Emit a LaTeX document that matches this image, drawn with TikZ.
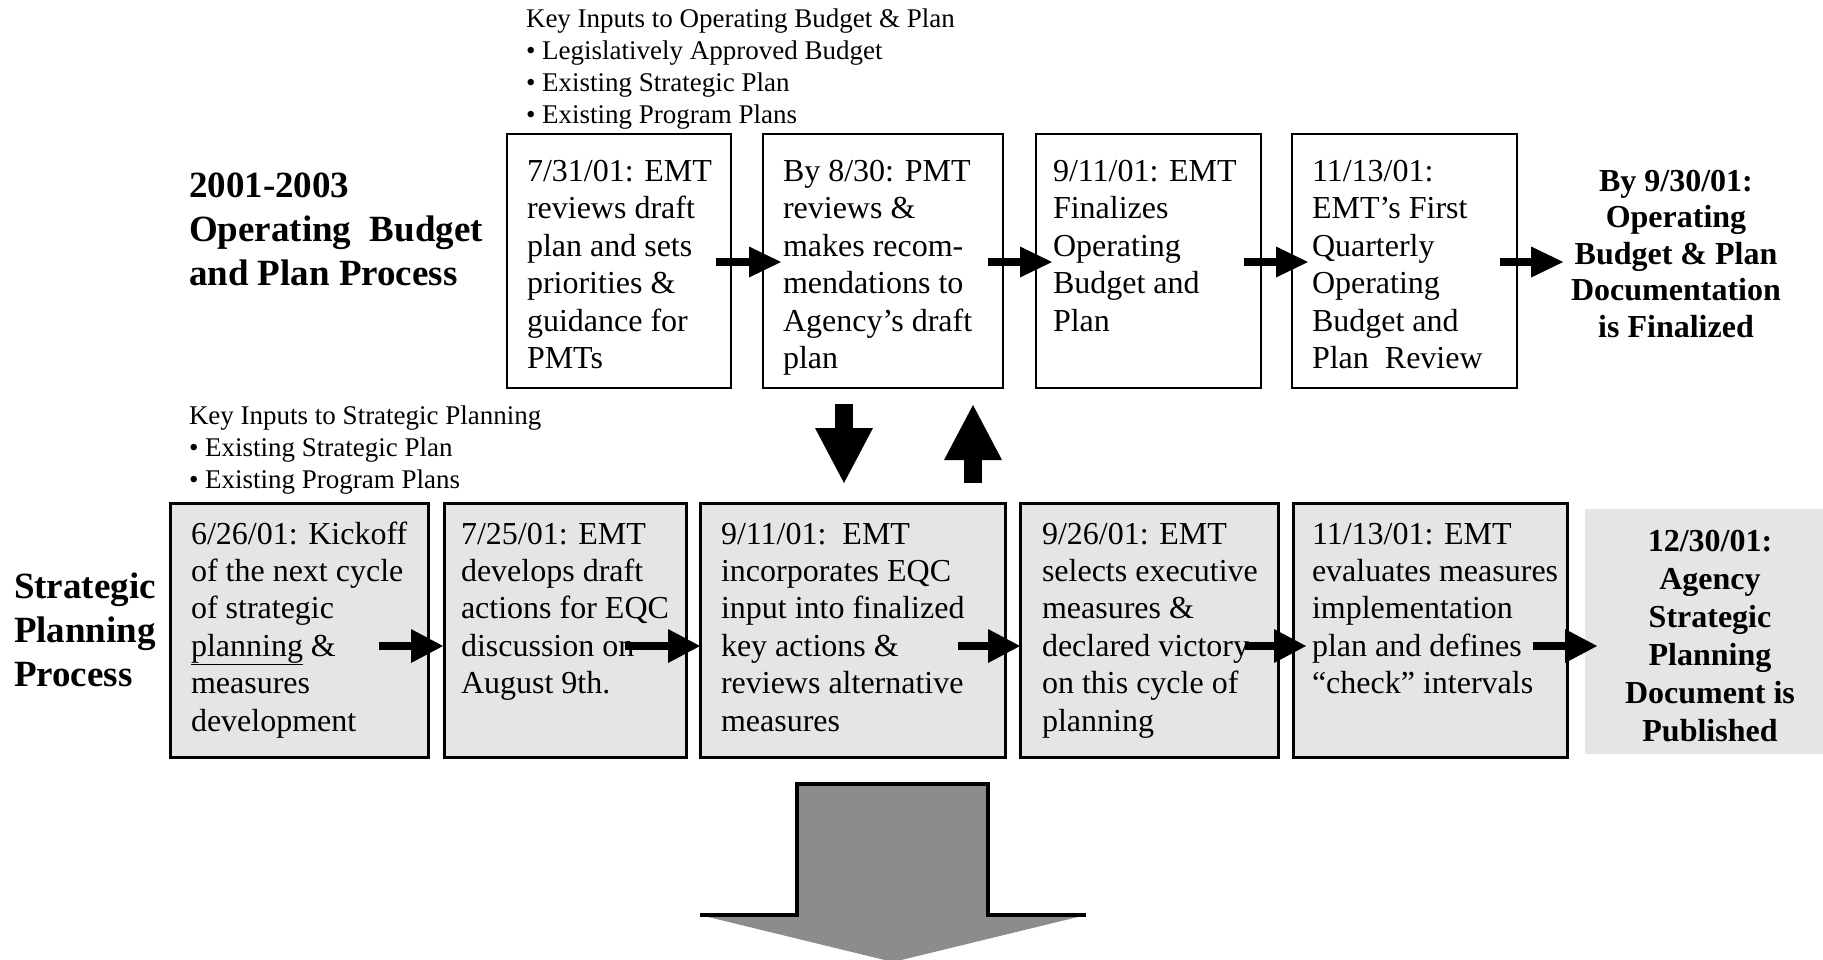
\documentclass[tikz,border=0pt]{standalone}
\usepackage{fontspec}
\setmainfont{Liberation Serif}
\usetikzlibrary{arrows.meta,calc}

% fixed ascent for the first line of every text block: the block's top edge
% lies exactly 30pt above its first baseline
\newcommand\fl{\rule{0pt}{30pt}}

\tikzset{
  every node/.style={inner sep=0pt, outer sep=0pt},
  budgetbox/.style={draw=black, line width=2.5pt, fill=white, anchor=north west,
    minimum height=254pt},
  stratbox/.style={draw=black, line width=3pt, fill=black!10, anchor=north west,
    minimum height=254pt},
  boxtext/.style={anchor=north west, align=left, font=\fontsize{32}{37.4}\selectfont},
  heading/.style={anchor=north west, align=left, font=\fontsize{37}{44}\selectfont\bfseries},
  inputtext/.style={anchor=north west, align=left, font=\fontsize{27}{32}\selectfont},
  goaltext/.style={anchor=north, align=center, font=\fontsize{32}{38}\selectfont\bfseries},
  toparrow/.style={line width=8pt, -{Triangle[length=32pt,width=31pt,line width=0pt]}},
  lowarrow/.style={line width=8.5pt, -{Triangle[length=32pt,width=34pt,line width=0pt]}},
  linkarrow/.style={line width=18pt, -{Triangle[length=55pt,width=58pt,line width=0pt]}},
}

\begin{document}
\begin{tikzpicture}[x=1pt,y=-1pt]
\useasboundingbox (0,0) rectangle (1823,959);
\fill[white] (0,0) rectangle (1823,959);

% ---------- Operating budget and plan row ----------
\node[heading] (budgettitle) at (189,167)
  {\fl 2001-2003\\Operating~~Budget\\and Plan Process};

\node[inputtext] (budgetinputs) at (526,-2.5)
  {\fl Key Inputs to Operating Budget \& Plan\\
   • Legislatively Approved Budget\\
   • Existing Strategic Plan\\
   • Existing Program Plans};

\node[budgetbox, minimum width=224pt] (t1) at (507,134) {};
\node[budgetbox, minimum width=240pt] (t2) at (763,134) {};
\node[budgetbox, minimum width=225pt] (t3) at (1036,134) {};
\node[budgetbox, minimum width=225pt] (t4) at (1292,134) {};

\node[boxtext] (t1txt) at ($(t1.north west)+(20,17.5)$)
  {\fl 7/31/01: EMT\\reviews draft\\plan and sets\\priorities \&\\guidance for\\PMTs};
\node[boxtext] (t2txt) at ($(t2.north west)+(20,17.5)$)
  {\fl By 8/30: PMT\\reviews \&\\makes recom-\\mendations to\\Agency’s draft\\plan};
\node[boxtext] (t3txt) at ($(t3.north west)+(17,17.5)$)
  {\fl 9/11/01: EMT\\Finalizes\\Operating\\Budget and\\Plan};
\node[boxtext] (t4txt) at ($(t4.north west)+(20,17.5)$)
  {\fl 11/13/01:\\EMT’s First\\Quarterly\\Operating\\Budget and\\Plan~~Review};

\node[goaltext, font=\fontsize{32}{36.5}\selectfont\bfseries] (budgetdone) at (1676,161)
  {\fl By 9/30/01:\\Operating\\Budget \& Plan\\Documentation\\is Finalized};

\draw[toparrow] ($(t1.east)+(-15,1)$) -- ($(t2.west)+(18,1)$);
\draw[toparrow] ($(t2.east)+(-15,1)$) -- ($(t3.west)+(16,1)$);
\draw[toparrow] ($(t3.east)+(-17,1)$) -- ($(t4.west)+(16,1)$);
\draw[toparrow] ($(t4.east)+(-17,1)$) -- ($(budgetdone.west |- t4.east)+(-8,1)$);

% ---------- Strategic planning row ----------
\node[heading] (strattitle) at (14,568)
  {\fl Strategic\\Planning\\Process};

\node[inputtext] (stratinputs) at (189,394)
  {\fl Key Inputs to Strategic Planning\\
   • Existing Strategic Plan\\
   • Existing Program Plans};

\node[stratbox, minimum width=258pt] (b1) at (170,503) {};
\node[stratbox, minimum width=242pt] (b2) at (444,503) {};
\node[stratbox, minimum width=305pt] (b3) at (700,503) {};
\node[stratbox, minimum width=258pt] (b4) at (1020,503) {};
\node[stratbox, minimum width=274pt] (b5) at (1293,503) {};
\node[fill=black!10, anchor=north west, minimum width=242pt, minimum height=245pt]
  (b6) at (1585,509) {};

\node[boxtext] (b1txt) at ($(b1.north west)+(21,11)$)
  {\fl 6/26/01: Kickoff\\of the next cycle\\of strategic\\\underline{planning} \&\\measures\\development};
\node[boxtext] (b2txt) at ($(b2.north west)+(17,11)$)
  {\fl 7/25/01: EMT\\develops draft\\actions for EQC\\discussion on\\August 9th.};
\node[boxtext] (b3txt) at ($(b3.north west)+(21,11)$)
  {\fl 9/11/01:~~EMT\\incorporates EQC\\input into finalized\\key actions \&\\reviews alternative\\measures};
\node[boxtext] (b4txt) at ($(b4.north west)+(22,11)$)
  {\fl 9/26/01: EMT\\selects executive\\measures \&\\declared victory\\on this cycle of\\planning};
\node[boxtext] (b5txt) at ($(b5.north west)+(19,11)$)
  {\fl 11/13/01: EMT\\evaluates measures\\implementation\\plan and defines\\“check” intervals};
\node[goaltext] (b6txt) at (1710,521)
  {\fl 12/30/01:\\Agency\\Strategic\\Planning\\Document is\\Published};

\draw[lowarrow] ($(b1.east)+(-49,16)$) -- ($(b2.west)+(-1,16)$);
\draw[lowarrow] ($(b2.east)+(-61,16)$) -- ($(b3.west)+(0,16)$);
\draw[lowarrow] ($(b3.east)+(-47,16)$) -- ($(b4.west)+(0,16)$);
\draw[lowarrow] ($(b4.east)+(-33,16)$) -- ($(b5.west)+(13,16)$);
\draw[lowarrow] ($(b5.east)+(-34,16)$) -- ($(b6.west |- b5.east)+(12,16)$);

% ---------- links between the two rows ----------
\draw[linkarrow] ($(t2.south)+(-39,16)$) -- ($(b3.north)+(-8.5,-20)$);
\draw[linkarrow] ($(b3.north)+(120.5,-20)$) -- ($(t2.south)+(90,17)$);

% ---------- large outgoing arrow ----------
\fill[black!45] (797,784) -- (988,784) -- (988,915) -- (1086,915) -- (893,962)
  -- (700,915) -- (797,915) -- cycle;
\draw[line width=3.5pt, line join=miter] (700,915) -- (797,915) -- (797,784)
  -- (988,784) -- (988,915) -- (1086,915);
\end{tikzpicture}
\end{document}
